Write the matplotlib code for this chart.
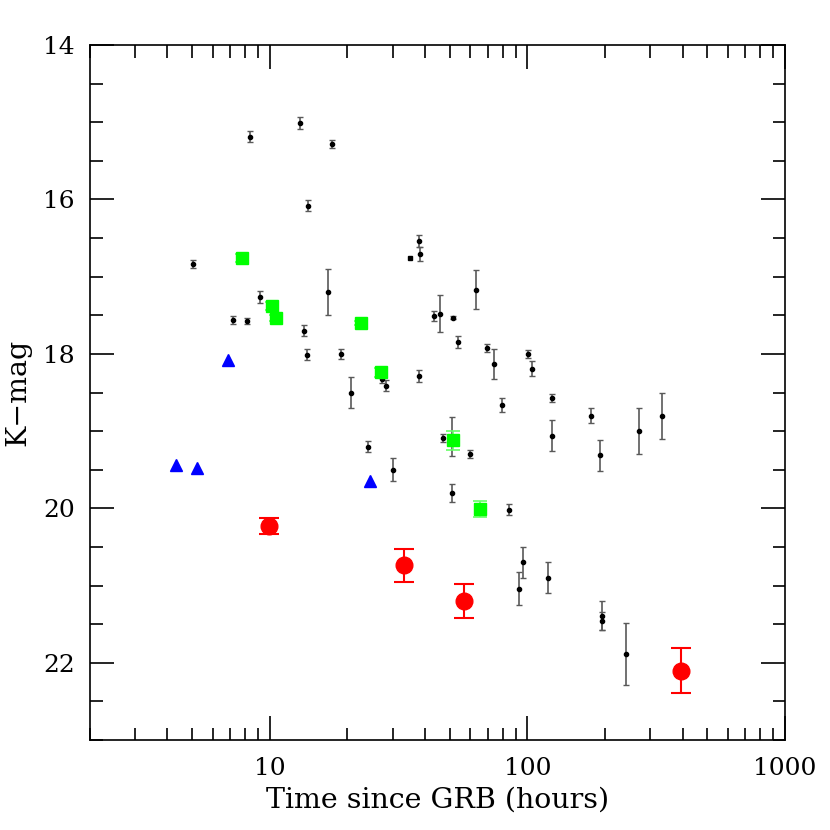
import matplotlib
matplotlib.use("Agg")
import matplotlib.pyplot as plt
from matplotlib.ticker import FixedLocator, NullFormatter, FixedFormatter, MultipleLocator

# Black points: time (hours), K mag, error
blk_t = [8.33, 13.1, 17.4, 14.0, 5.04, 37.8, 38.2, 9.11, 7.21, 8.17, 16.8, 13.6, 13.9,
         18.8, 43.2, 20.6, 27.3, 28.2, 37.9, 45.6, 51.2, 53.8, 63.0, 69.5, 74.2, 100.5,
         104, 47.0, 51.0, 59.6, 79.3, 124, 124, 176, 192, 271, 332, 50.9, 84.6, 95.9,
         93.1, 120, 194, 194, 242, 24.0, 30.0]
blk_m = [15.19, 15.01, 15.28, 16.08, 16.84, 16.54, 16.71, 17.26, 17.56, 17.57, 17.20, 17.70, 18.01,
         18.00, 17.51, 18.50, 18.33, 18.41, 18.29, 17.48, 17.53, 17.85, 17.17, 17.92, 18.13, 18.00,
         18.19, 19.09, 19.07, 19.30, 18.66, 18.57, 19.06, 18.80, 19.31, 19.00, 18.80, 19.80, 20.02, 20.70,
         21.04, 20.90, 21.39, 21.46, 21.89, 19.20, 19.50]
blk_e = [0.07, 0.08, 0.05, 0.07, 0.05, 0.08, 0.09, 0.08, 0.05, 0.04, 0.30, 0.07, 0.07,
         0.06, 0.07, 0.20, 0.05, 0.07, 0.08, 0.24, 0.02, 0.08, 0.25, 0.05, 0.19, 0.05,
         0.10, 0.05, 0.25, 0.05, 0.09, 0.05, 0.20, 0.10, 0.20, 0.30, 0.30, 0.12, 0.07, 0.20,
         0.21, 0.20, 0.19, 0.12, 0.40, 0.07, 0.15]

# Single point without error bar (small square)
sq_t = [34.9]
sq_m = [16.76]

# Green squares
grn_t = [7.76, 10.14, 10.58, 22.5, 27.0, 51.5, 65.5]
grn_m = [16.76, 17.38, 17.54, 17.60, 18.24, 19.12, 20.01]
grn_e = [0.05, 0.05, 0.04, 0.03, 0.06, 0.12, 0.10]

# Blue triangles (limits)
blu_t = [4.32, 5.21, 6.85, 24.5]
blu_m = [19.44, 19.48, 18.08, 19.65]

# Red circles
red_t = [9.9, 33.2, 56.6, 395]
red_m = [20.23, 20.74, 21.20, 22.10]
red_e = [0.10, 0.22, 0.22, 0.29]

xticks = [10, 100, 1000]
yticks = [14, 16, 18, 20, 22]

plt.rcParams['font.family'] = ['DejaVu Serif']

fig = plt.figure(figsize=(8.3, 8.3), dpi=100)
ax = fig.add_axes([0.1084, 0.1084, 0.8374, 0.8374])

ax.errorbar(blk_t, blk_m, yerr=blk_e, fmt='o', color='black', ms=3, ecolor='0.35',
            elinewidth=1.2, capsize=2.5, capthick=1, zorder=3)
ax.plot(sq_t, sq_m, 's', color='black', ms=3, zorder=3)
ax.errorbar(grn_t, grn_m, yerr=grn_e, fmt='s', color='#00ff00', ms=8, ecolor='#66ff66',
            elinewidth=1.2, capsize=5, capthick=1.2, zorder=4)
ax.plot(blu_t, blu_m, '^', color='blue', ms=8.5, zorder=4)
ax.errorbar(red_t, red_m, yerr=red_e, fmt='o', color='red', ms=12, ecolor='red',
            elinewidth=1.5, capsize=7, capthick=1.5, zorder=5)

ax.set_xscale('log')
ax.set_xlim(2, 1000)
ax.set_ylim(23, 14)

ax.xaxis.set_major_locator(FixedLocator(xticks))
ax.xaxis.set_major_formatter(FixedFormatter([str(v) for v in xticks]))
ax.xaxis.set_minor_locator(matplotlib.ticker.LogLocator(base=10, subs=range(2, 10)))
ax.xaxis.set_minor_formatter(NullFormatter())
ax.yaxis.set_major_locator(FixedLocator(yticks))
ax.yaxis.set_minor_locator(MultipleLocator(0.5))

ax.tick_params(which='both', direction='in', top=True, right=True, width=1.2,
               labelsize=18)
ax.tick_params(axis='x', pad=12)
ax.tick_params(axis='y', pad=11)
ax.tick_params(which='major', length=17)
ax.tick_params(which='minor', length=9)
for s in ax.spines.values():
    s.set_linewidth(1.2)

ax.set_xlabel('Time since GRB (hours)', fontsize=20.5, labelpad=5)
ax.set_ylabel('K\u2212mag', fontsize=20.5, labelpad=8)

fig.savefig('out.png', dpi=100)
